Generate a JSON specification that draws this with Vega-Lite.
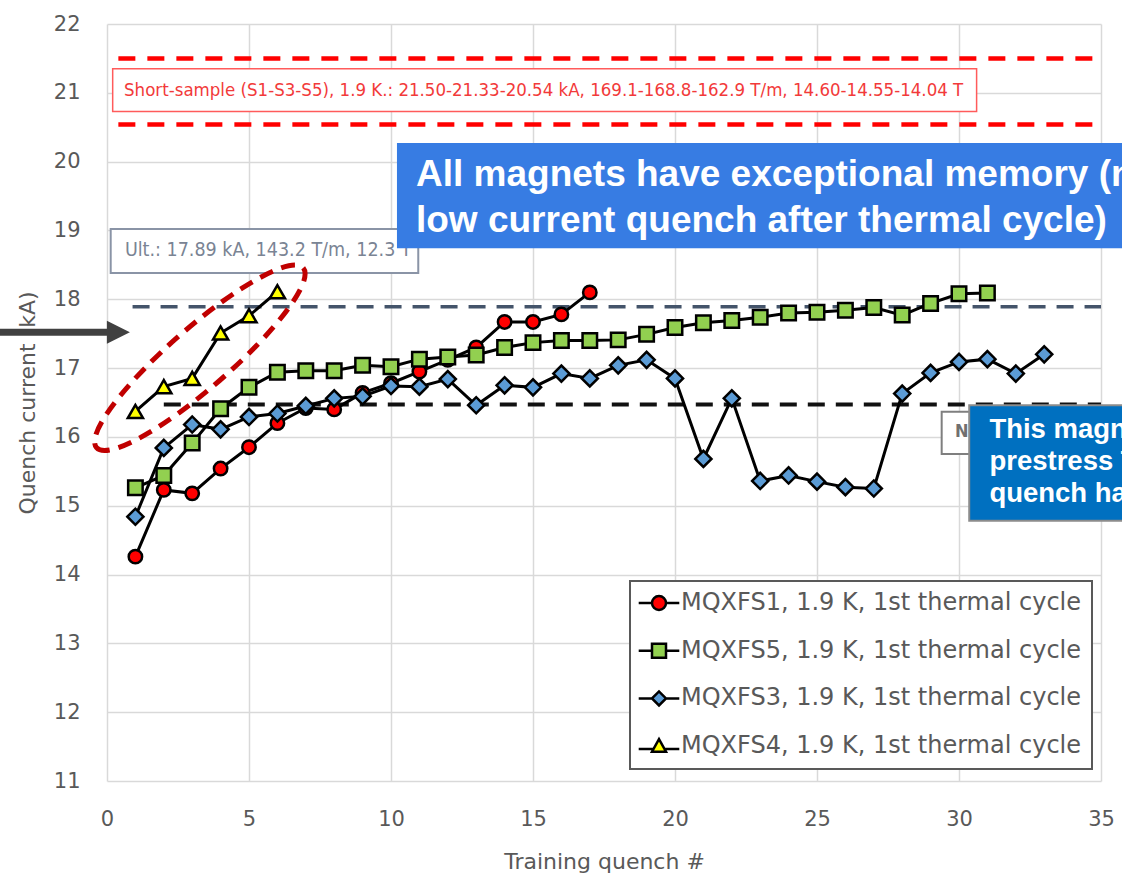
{
  "$schema": "https://vega.github.io/schema/vega-lite/v6.json",
  "width": 994,
  "height": 757,
  "autosize": {"type": "none"},
  "padding": {"left": 107, "top": 24, "right": 21, "bottom": 99},
  "background": "white",
  "config": {"view": {"stroke": null}},
  "datasets": {
    "q": [
      {"s": "MQXFS1", "x": 1, "y": 14.26}, {"s": "MQXFS1", "x": 2, "y": 15.23}, {"s": "MQXFS1", "x": 3, "y": 15.18}, {"s": "MQXFS1", "x": 4, "y": 15.54}, {"s": "MQXFS1", "x": 5, "y": 15.85}, {"s": "MQXFS1", "x": 6, "y": 16.2}, {"s": "MQXFS1", "x": 7, "y": 16.42}, {"s": "MQXFS1", "x": 8, "y": 16.4}, {"s": "MQXFS1", "x": 9, "y": 16.64}, {"s": "MQXFS1", "x": 10, "y": 16.78}, {"s": "MQXFS1", "x": 11, "y": 16.95}, {"s": "MQXFS1", "x": 12, "y": 17.12}, {"s": "MQXFS1", "x": 13, "y": 17.3}, {"s": "MQXFS1", "x": 14, "y": 17.67}, {"s": "MQXFS1", "x": 15, "y": 17.67}, {"s": "MQXFS1", "x": 16, "y": 17.78}, {"s": "MQXFS1", "x": 17, "y": 18.1},
      {"s": "MQXFS5", "x": 1, "y": 15.26}, {"s": "MQXFS5", "x": 2, "y": 15.44}, {"s": "MQXFS5", "x": 3, "y": 15.91}, {"s": "MQXFS5", "x": 4, "y": 16.41}, {"s": "MQXFS5", "x": 5, "y": 16.72}, {"s": "MQXFS5", "x": 6, "y": 16.94}, {"s": "MQXFS5", "x": 7, "y": 16.96}, {"s": "MQXFS5", "x": 8, "y": 16.96}, {"s": "MQXFS5", "x": 9, "y": 17.04}, {"s": "MQXFS5", "x": 10, "y": 17.02}, {"s": "MQXFS5", "x": 11, "y": 17.13}, {"s": "MQXFS5", "x": 12, "y": 17.16}, {"s": "MQXFS5", "x": 13, "y": 17.19}, {"s": "MQXFS5", "x": 14, "y": 17.3}, {"s": "MQXFS5", "x": 15, "y": 17.37}, {"s": "MQXFS5", "x": 16, "y": 17.4}, {"s": "MQXFS5", "x": 17, "y": 17.4}, {"s": "MQXFS5", "x": 18, "y": 17.41}, {"s": "MQXFS5", "x": 19, "y": 17.49}, {"s": "MQXFS5", "x": 20, "y": 17.59}, {"s": "MQXFS5", "x": 21, "y": 17.66}, {"s": "MQXFS5", "x": 22, "y": 17.69}, {"s": "MQXFS5", "x": 23, "y": 17.74}, {"s": "MQXFS5", "x": 24, "y": 17.8}, {"s": "MQXFS5", "x": 25, "y": 17.81}, {"s": "MQXFS5", "x": 26, "y": 17.84}, {"s": "MQXFS5", "x": 27, "y": 17.88}, {"s": "MQXFS5", "x": 28, "y": 17.77}, {"s": "MQXFS5", "x": 29, "y": 17.94}, {"s": "MQXFS5", "x": 30, "y": 18.08}, {"s": "MQXFS5", "x": 31, "y": 18.09},
      {"s": "MQXFS3", "x": 1, "y": 14.84}, {"s": "MQXFS3", "x": 2, "y": 15.84}, {"s": "MQXFS3", "x": 3, "y": 16.18}, {"s": "MQXFS3", "x": 4, "y": 16.11}, {"s": "MQXFS3", "x": 5, "y": 16.29}, {"s": "MQXFS3", "x": 6, "y": 16.34}, {"s": "MQXFS3", "x": 7, "y": 16.45}, {"s": "MQXFS3", "x": 8, "y": 16.56}, {"s": "MQXFS3", "x": 9, "y": 16.59}, {"s": "MQXFS3", "x": 10, "y": 16.74}, {"s": "MQXFS3", "x": 11, "y": 16.73}, {"s": "MQXFS3", "x": 12, "y": 16.84}, {"s": "MQXFS3", "x": 13, "y": 16.46}, {"s": "MQXFS3", "x": 14, "y": 16.75}, {"s": "MQXFS3", "x": 15, "y": 16.72}, {"s": "MQXFS3", "x": 16, "y": 16.92}, {"s": "MQXFS3", "x": 17, "y": 16.85}, {"s": "MQXFS3", "x": 18, "y": 17.04}, {"s": "MQXFS3", "x": 19, "y": 17.12}, {"s": "MQXFS3", "x": 20, "y": 16.85}, {"s": "MQXFS3", "x": 21, "y": 15.68}, {"s": "MQXFS3", "x": 22, "y": 16.56}, {"s": "MQXFS3", "x": 23, "y": 15.36}, {"s": "MQXFS3", "x": 24, "y": 15.44}, {"s": "MQXFS3", "x": 25, "y": 15.35}, {"s": "MQXFS3", "x": 26, "y": 15.27}, {"s": "MQXFS3", "x": 27, "y": 15.25}, {"s": "MQXFS3", "x": 28, "y": 16.63}, {"s": "MQXFS3", "x": 29, "y": 16.93}, {"s": "MQXFS3", "x": 30, "y": 17.09}, {"s": "MQXFS3", "x": 31, "y": 17.13}, {"s": "MQXFS3", "x": 32, "y": 16.92}, {"s": "MQXFS3", "x": 33, "y": 17.2},
      {"s": "MQXFS4", "x": 1, "y": 16.37}, {"s": "MQXFS4", "x": 2, "y": 16.73}, {"s": "MQXFS4", "x": 3, "y": 16.85}, {"s": "MQXFS4", "x": 4, "y": 17.51}, {"s": "MQXFS4", "x": 5, "y": 17.76}, {"s": "MQXFS4", "x": 6, "y": 18.11}
    ]
  },
  "layer": [
    {
      "data": {"values": [{"x": 0.4, "x2": 35, "y": 21.5}, {"x": 0.4, "x2": 35, "y": 20.54}]},
      "mark": {"type": "rule", "color": "#FF0000", "strokeWidth": 4.5, "strokeDash": [17, 12]},
      "encoding": {
        "x": {"field": "x", "type": "quantitative", "scale": {"domain": [0, 35], "nice": false, "zero": false},
          "axis": {"title": "Training quench #", "values": [0, 5, 10, 15, 20, 25, 30, 35], "format": "d", "grid": true, "gridColor": "#D9D9D9", "gridWidth": 1.5, "domain": false, "ticks": false, "labelFont": "DejaVu Sans", "labelFontSize": 21, "labelColor": "#595959", "labelPadding": 27, "labelFlush": false, "titleFont": "DejaVu Sans", "titleFontSize": 22, "titleFontWeight": "normal", "titleColor": "#595959", "titlePadding": 22}},
        "x2": {"field": "x2"},
        "y": {"field": "y", "type": "quantitative", "scale": {"domain": [11, 22], "nice": false, "zero": false},
          "axis": {"title": "Quench current (kA)", "values": [11, 12, 13, 14, 15, 16, 17, 18, 19, 20, 21, 22], "format": "d", "grid": true, "gridColor": "#D9D9D9", "gridWidth": 1.5, "domain": false, "ticks": false, "labelFont": "DejaVu Sans", "labelFontSize": 21, "labelColor": "#595959", "labelPadding": 27, "labelFlush": false, "titleFont": "DejaVu Sans", "titleFontSize": 22, "titleFontWeight": "normal", "titleColor": "#595959", "titlePadding": 14}}
      }
    },
    {
      "data": {"values": [{"x": 0.9, "x2": 35, "y": 17.89}]},
      "mark": {"type": "rule", "color": "#44546A", "strokeWidth": 3.5, "strokeDash": [17, 11]},
      "encoding": {"x": {"field": "x", "type": "quantitative"}, "x2": {"field": "x2"}, "y": {"field": "y", "type": "quantitative"}}
    },
    {
      "data": {"values": [{"x": 2, "x2": 35, "y": 16.47}]},
      "mark": {"type": "rule", "color": "#111111", "strokeWidth": 4, "strokeDash": [17, 11]},
      "encoding": {"x": {"field": "x", "type": "quantitative"}, "x2": {"field": "x2"}, "y": {"field": "y", "type": "quantitative"}}
    },
    {
      "data": {"values": [{"x": 0.2, "x2": 30.62, "y": 21.35, "y2": 20.73}]},
      "mark": {"type": "rect", "fill": "#FFFFFF", "stroke": "#FF5B5B", "strokeWidth": 1.5},
      "encoding": {"x": {"field": "x", "type": "quantitative"}, "x2": {"field": "x2"}, "y": {"field": "y", "type": "quantitative"}, "y2": {"field": "y2"}}
    },
    {
      "data": {"values": [{"x": 0.6, "y": 21.04, "t": "Short-sample (S1-S3-S5), 1.9 K.: 21.50-21.33-20.54  kA, 169.1-168.8-162.9  T/m, 14.60-14.55-14.04  T"}]},
      "mark": {"type": "text", "font": "DejaVu Sans Condensed", "fontSize": 18.5, "color": "#F23A3A", "align": "left", "baseline": "middle"},
      "encoding": {"x": {"field": "x", "type": "quantitative"}, "y": {"field": "y", "type": "quantitative"}, "text": {"field": "t"}}
    },
    {
      "data": {"values": [{"x": 0.13, "x2": 10.96, "y": 19.02, "y2": 18.38}]},
      "mark": {"type": "rect", "fill": "#FFFFFF", "stroke": "#8A94A6", "strokeWidth": 2},
      "encoding": {"x": {"field": "x", "type": "quantitative"}, "x2": {"field": "x2"}, "y": {"field": "y", "type": "quantitative"}, "y2": {"field": "y2"}}
    },
    {
      "data": {"values": [{"x": 0.63, "y": 18.72, "t": "Ult.: 17.89 kA, 143.2 T/m, 12.3 T"}]},
      "mark": {"type": "text", "font": "DejaVu Sans Condensed", "fontSize": 19.5, "color": "#7A8494", "align": "left", "baseline": "middle"},
      "encoding": {"x": {"field": "x", "type": "quantitative"}, "y": {"field": "y", "type": "quantitative"}, "text": {"field": "t"}}
    },
    {
      "data": {"name": "q"}, "transform": [{"filter": "datum.s == 'MQXFS1'"}],
      "mark": {"type": "line", "color": "#000000", "strokeWidth": 3},
      "encoding": {"x": {"field": "x", "type": "quantitative"}, "y": {"field": "y", "type": "quantitative"}}
    },
    {
      "data": {"name": "q"}, "transform": [{"filter": "datum.s == 'MQXFS1'"}],
      "mark": {"type": "point", "shape": "circle", "size": 180, "filled": true, "fill": "#FF0000", "stroke": "#000000", "strokeWidth": 2.5, "opacity": 1},
      "encoding": {"x": {"field": "x", "type": "quantitative"}, "y": {"field": "y", "type": "quantitative"}}
    },
    {
      "data": {"name": "q"}, "transform": [{"filter": "datum.s == 'MQXFS5'"}],
      "mark": {"type": "line", "color": "#000000", "strokeWidth": 3},
      "encoding": {"x": {"field": "x", "type": "quantitative"}, "y": {"field": "y", "type": "quantitative"}}
    },
    {
      "data": {"name": "q"}, "transform": [{"filter": "datum.s == 'MQXFS5'"}],
      "mark": {"type": "point", "shape": "square", "size": 210, "filled": true, "fill": "#92D050", "stroke": "#000000", "strokeWidth": 2.5, "opacity": 1},
      "encoding": {"x": {"field": "x", "type": "quantitative"}, "y": {"field": "y", "type": "quantitative"}}
    },
    {
      "data": {"name": "q"}, "transform": [{"filter": "datum.s == 'MQXFS3'"}],
      "mark": {"type": "line", "color": "#000000", "strokeWidth": 3},
      "encoding": {"x": {"field": "x", "type": "quantitative"}, "y": {"field": "y", "type": "quantitative"}}
    },
    {
      "data": {"name": "q"}, "transform": [{"filter": "datum.s == 'MQXFS3'"}],
      "mark": {"type": "point", "shape": "diamond", "size": 260, "filled": true, "fill": "#5B9BD5", "stroke": "#000000", "strokeWidth": 2.5, "opacity": 1},
      "encoding": {"x": {"field": "x", "type": "quantitative"}, "y": {"field": "y", "type": "quantitative"}}
    },
    {
      "data": {"name": "q"}, "transform": [{"filter": "datum.s == 'MQXFS4'"}],
      "mark": {"type": "line", "color": "#000000", "strokeWidth": 3},
      "encoding": {"x": {"field": "x", "type": "quantitative"}, "y": {"field": "y", "type": "quantitative"}}
    },
    {
      "data": {"name": "q"}, "transform": [{"filter": "datum.s == 'MQXFS4'"}],
      "mark": {"type": "point", "shape": "triangle-up", "size": 230, "filled": true, "fill": "#FFFF00", "stroke": "#000000", "strokeWidth": 2.5, "opacity": 1},
      "encoding": {"x": {"field": "x", "type": "quantitative"}, "y": {"field": "y", "type": "quantitative"}}
    },
    {
      "data": {"values": [{"x": 3.27, "y": 17.15}]},
      "mark": {"type": "point", "shape": "M-1,0A1,0.22,0,1,0,1,0A1,0.22,0,1,0,-1,0Z", "size": 75000, "angle": -41, "filled": false, "stroke": "#C00000", "strokeWidth": 5, "strokeDash": [14, 9], "opacity": 1},
      "encoding": {"x": {"field": "x", "type": "quantitative"}, "y": {"field": "y", "type": "quantitative"}}
    },
    {
      "data": {"values": [{"x": 10.21, "x2": 36, "y": 20.27, "y2": 18.74}]},
      "mark": {"type": "rect", "fill": "#377CE3"},
      "encoding": {"x": {"field": "x", "type": "quantitative"}, "x2": {"field": "x2"}, "y": {"field": "y", "type": "quantitative"}, "y2": {"field": "y2"}}
    },
    {
      "data": {"values": [{"x": 10.88, "y": 19.64, "t": "All magnets have exceptional memory (no"}, {"x": 10.88, "y": 18.98, "t": "low current quench after thermal cycle)"}]},
      "mark": {"type": "text", "font": "Liberation Sans", "fontWeight": "bold", "fontSize": 37, "color": "#FFFFFF", "align": "left", "baseline": "alphabetic"},
      "encoding": {"x": {"field": "x", "type": "quantitative"}, "y": {"field": "y", "type": "quantitative"}, "text": {"field": "t"}}
    },
    {
      "data": {"values": [{"x": 29.39, "x2": 31.5, "y": 16.365, "y2": 15.75}]},
      "mark": {"type": "rect", "fill": "#FFFFFF", "stroke": "#7F7F7F", "strokeWidth": 2},
      "encoding": {"x": {"field": "x", "type": "quantitative"}, "x2": {"field": "x2"}, "y": {"field": "y", "type": "quantitative"}, "y2": {"field": "y2"}}
    },
    {
      "data": {"values": [{"x": 29.86, "y": 16.0, "t": "Nom.: 16.47 kA"}]},
      "mark": {"type": "text", "font": "DejaVu Sans Condensed", "fontWeight": "bold", "fontSize": 18, "color": "#707070", "align": "left", "baseline": "alphabetic"},
      "encoding": {"x": {"field": "x", "type": "quantitative"}, "y": {"field": "y", "type": "quantitative"}, "text": {"field": "t"}}
    },
    {
      "data": {"values": [{"x": 30.36, "x2": 36, "y": 16.46, "y2": 14.78}]},
      "mark": {"type": "rect", "fill": "#0070C0", "stroke": "#8C8C8C", "strokeWidth": 2},
      "encoding": {"x": {"field": "x", "type": "quantitative"}, "x2": {"field": "x2"}, "y": {"field": "y", "type": "quantitative"}, "y2": {"field": "y2"}}
    },
    {
      "data": {"values": [{"x": 31.07, "y": 15.98, "t": "This magnet has"}, {"x": 31.07, "y": 15.52, "t": "prestress T"}, {"x": 31.07, "y": 15.05, "t": "quench has"}]},
      "mark": {"type": "text", "font": "Liberation Sans", "fontWeight": "bold", "fontSize": 27.5, "color": "#FFFFFF", "align": "left", "baseline": "alphabetic"},
      "encoding": {"x": {"field": "x", "type": "quantitative"}, "y": {"field": "y", "type": "quantitative"}, "text": {"field": "t"}}
    },
    {
      "data": {"values": [{"x": -4, "x2": 0.05, "y": 17.52}]},
      "mark": {"type": "rule", "color": "#404040", "strokeWidth": 7},
      "encoding": {"x": {"field": "x", "type": "quantitative"}, "x2": {"field": "x2"}, "y": {"field": "y", "type": "quantitative"}}
    },
    {
      "data": {"values": [{"x": 0.4, "y": 17.52}]},
      "mark": {"type": "point", "shape": "M-1,-1L1,0L-1,1Z", "size": 529, "filled": true, "fill": "#404040", "strokeWidth": 0, "opacity": 1},
      "encoding": {"x": {"field": "x", "type": "quantitative"}, "y": {"field": "y", "type": "quantitative"}}
    },
    {
      "data": {"name": "q"}, "transform": [{"filter": "datum.x == 1"}],
      "mark": {"type": "point", "filled": true, "size": 196, "stroke": "#000000", "strokeWidth": 2.5, "opacity": 0},
      "encoding": {
        "x": {"field": "x", "type": "quantitative"},
        "y": {"field": "y", "type": "quantitative"},
        "shape": {"field": "s", "type": "nominal",
          "scale": {"domain": ["MQXFS1", "MQXFS5", "MQXFS3", "MQXFS4"],
            "range": ["M-2.9,0H-1M1,0H2.9M-1,0A1,1,0,1,1,1,0A1,1,0,1,1,-1,0Z", "M-2.9,0H-1M1,0H2.9M-1,-1H1V1H-1Z", "M-2.9,0H-1M1,0H2.9M-1,0L0,-1L1,0L0,1Z", "M-2.9,0.4H-0.78M0.78,0.4H2.9M0,-1L1,0.8H-1Z"]}},
        "fill": {"field": "s", "type": "nominal",
          "scale": {"domain": ["MQXFS1", "MQXFS5", "MQXFS3", "MQXFS4"], "range": ["#FF0000", "#92D050", "#5B9BD5", "#FFFF00"]},
          "legend": {"orient": "none", "legendX": 523, "legendY": 557, "title": null,
            "labelExpr": "datum.label + ', 1.9 K, 1st thermal cycle'",
            "labelFont": "DejaVu Sans", "labelFontSize": 24, "labelColor": "#595959", "labelOffset": 10, "labelLimit": 600,
            "symbolSize": 196, "symbolStrokeColor": "#000000", "symbolStrokeWidth": 2.5, "symbolOpacity": 1, "symbolOffset": 7,
            "rowPadding": 23.7, "padding": 10, "strokeColor": "#595959", "fillColor": "#FFFFFF",
            "encode": {"symbols": {"update": {"opacity": {"value": 1}, "stroke": {"value": "#000000"}, "strokeWidth": {"value": 2.5}}}, "legend": {"update": {"strokeWidth": {"value": 2}}}}}}
      }
    }
  ]
}
